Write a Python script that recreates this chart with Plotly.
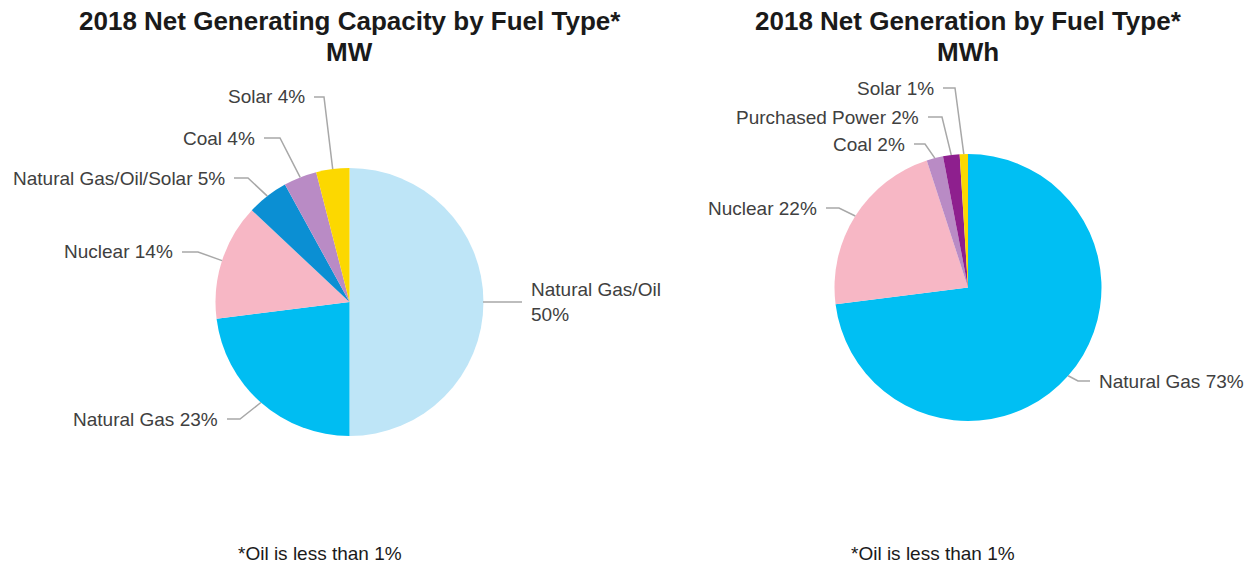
import math
import plotly.graph_objects as go

# ---- data -------------------------------------------------------------
capacity_labels = ["Natural Gas/Oil", "Natural Gas", "Nuclear",
                   "Natural Gas/Oil/Solar", "Coal", "Solar"]
capacity_pct = [50, 23, 14, 5, 4, 4]
capacity_colors = ["#bee5f7", "#00bdf2", "#f7b7c5", "#0b8fd3", "#b98bc5", "#fcd800"]

generation_labels = ["Natural Gas", "Nuclear", "Coal", "Purchased Power", "Solar"]
generation_pct = [73, 22, 2, 2, 1]
generation_colors = ["#00bff3", "#f7b7c5", "#b98bc5", "#8e1f8e", "#fcd800"]

# ---- layout helpers ---------------------------------------------------
W, H = 1251, 565
LABEL_FONT = dict(family="Liberation Sans, Arial, sans-serif", size=19, color="#404040")
TITLE_FONT = dict(family="Liberation Sans, Arial, sans-serif", size=26, color="#1a1a1a")
LINE_COLOR = "#a8a8a8"


def px(x):
    return x / W


def py(y):
    return 1 - y / H


def edge_point(values, i, cx, cy, r):
    total = sum(values)
    mid = (sum(values[:i]) + values[i] / 2) / total
    theta = 2 * math.pi * mid  # clockwise from 12 o'clock
    return cx + r * math.sin(theta), cy - r * math.cos(theta)


fig = go.Figure()
shapes = []
annotations = []


def add_pie(labels, values, colors, cx, cy, r, label_pos):
    fig.add_trace(go.Pie(
        labels=labels, values=values, sort=False, direction="clockwise",
        rotation=0, textinfo="none", hoverinfo="label+percent",
        marker=dict(colors=colors, line=dict(width=0)),
        domain=dict(x=[px(cx - r), px(cx + r)], y=[py(cy + r), py(cy - r)]),
        showlegend=False,
    ))
    for i, (lab, val) in enumerate(zip(labels, values)):
        tx, ty, side, hl, text = label_pos[i]
        ex, ey = edge_point(values, i, cx, cy, r)
        gap = 8
        if side == "right":
            # label sits left of the pie, text right-aligned at tx
            x_near = tx + gap
            x_elbow = x_near + hl
            xanchor = "right"
        else:
            x_near = tx - gap
            x_elbow = x_near - hl
            xanchor = "left"
        path = (f"M {px(ex)},{py(ey)} L {px(x_elbow)},{py(ty)} "
                f"L {px(x_near)},{py(ty)}")
        shapes.append(dict(type="path", xref="paper", yref="paper", path=path,
                           line=dict(color=LINE_COLOR, width=1.5)))
        annotations.append(dict(x=px(tx), y=py(ty), xref="paper", yref="paper",
                                text=text, showarrow=False, xanchor=xanchor,
                                yanchor="middle", align="left", font=LABEL_FONT,
                                borderpad=0))


# label anchors: (x, y, side, horizontal leader length, text)
cap_pos = [
    (530, 302, "left", 39, f"Natural Gas/Oil<br>{capacity_pct[0]}%"),
    (219, 419, "right", 13, f"Natural Gas {capacity_pct[1]}%"),
    (174, 252, "right", 16, f"Nuclear {capacity_pct[2]}%"),
    (226, 178, "right", 14, f"Natural Gas/Oil/Solar {capacity_pct[3]}%"),
    (256, 138, "right", 16, f"Coal {capacity_pct[4]}%"),
    (306, 97, "right", 10, f"Solar {capacity_pct[5]}%"),
]
gen_pos = [
    (1098, 381, "left", 12, f"Natural Gas {generation_pct[0]}%"),
    (818, 208, "right", 13, f"Nuclear {generation_pct[1]}%"),
    (906, 144, "right", 11, f"Coal {generation_pct[2]}%"),
    (920, 117, "right", 14, f"Purchased Power {generation_pct[3]}%"),
    (935, 88, "right", 12, f"Solar {generation_pct[4]}%"),
]

add_pie(capacity_labels, capacity_pct, capacity_colors, 349.5, 302, 134, cap_pos)
add_pie(generation_labels, generation_pct, generation_colors, 968, 287.5, 133.5, gen_pos)

# titles and footnotes
for cx, line1, line2 in [(349.5, "2018 Net Generating Capacity by Fuel Type*", "MW"),
                         (968, "2018 Net Generation by Fuel Type*", "MWh")]:
    annotations.append(dict(x=px(cx), y=py(21), xref="paper", yref="paper",
                            text=f"<b>{line1}</b>", showarrow=False,
                            xanchor="center", yanchor="middle", font=TITLE_FONT))
    annotations.append(dict(x=px(cx), y=py(52), xref="paper", yref="paper",
                            text=f"<b>{line2}</b>", showarrow=False,
                            xanchor="center", yanchor="middle", font=TITLE_FONT))

for cx in (320, 933):
    annotations.append(dict(x=px(cx), y=py(553), xref="paper", yref="paper",
                            text="*Oil is less than 1%", showarrow=False,
                            xanchor="center", yanchor="middle",
                            font=dict(family="Liberation Sans, Arial, sans-serif",
                                      size=19, color="#1a1a1a")))

fig.update_layout(
    width=W, height=H,
    margin=dict(l=0, r=0, t=0, b=0),
    paper_bgcolor="white", plot_bgcolor="white",
    shapes=shapes, annotations=annotations,
)

fig.write_html("out.html")
